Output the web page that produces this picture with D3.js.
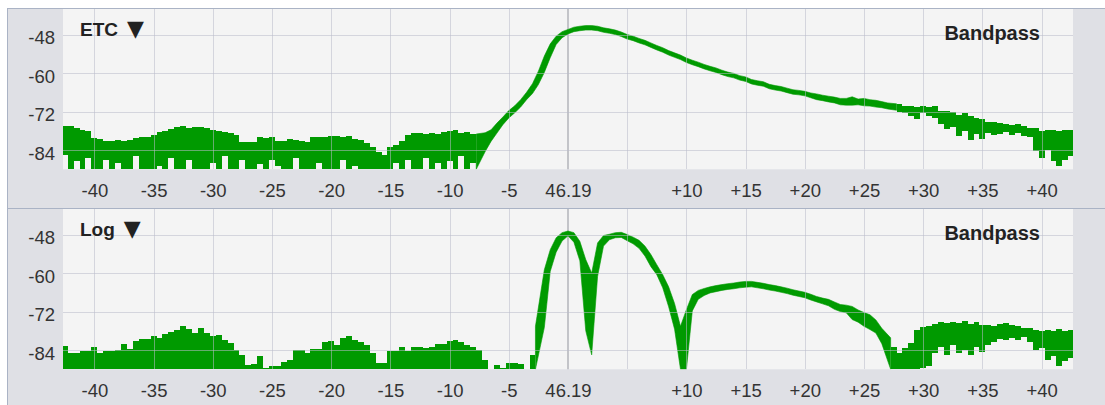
<!DOCTYPE html>
<html><head><meta charset="utf-8">
<script src="https://cdn.jsdelivr.net/npm/d3@7"></script>
<style>
html,body{margin:0;padding:0;background:#fff;}
svg{display:block;}
text{font-family:"Liberation Sans",Arial,Helvetica,sans-serif;}
</style></head><body>
<svg id="chart" width="1105" height="405"></svg>
<script>
// sample times (ms relative to 46.19 ms), 0.5 ms apart
const sampleTimes = [
-42.5,-42,-41.5,-41,-40.5,-40,-39.5,-39,-38.5,-38,
-37.5,-37,-36.5,-36,-35.5,-35,-34.5,-34,-33.5,-33,
-32.5,-32,-31.5,-31,-30.5,-30,-29.5,-29,-28.5,-28,
-27.5,-27,-26.5,-26,-25.5,-25,-24.5,-24,-23.5,-23,
-22.5,-22,-21.5,-21,-20.5,-20,-19.5,-19,-18.5,-18,
-17.5,-17,-16.5,-16,-15.5,-15,-14.5,-14,-13.5,-13,
-12.5,-12,-11.5,-11,-10.5,-10,-9.5,-9,-8.5,-8,
-7.5,-7,-6.5,-6,-5.5,-5,-4.5,-4,-3.5,-3,
-2.5,-2,-1.5,-1,-0.5,0,0.5,1,1.5,2,
2.5,3,3.5,4,4.5,5,5.5,6,6.5,7,
7.5,8,8.5,9,9.5,10,10.5,11,11.5,12,
12.5,13,13.5,14,14.5,15,15.5,16,16.5,17,
17.5,18,18.5,19,19.5,20,20.5,21,21.5,22,
22.5,23,23.5,24,24.5,25,25.5,26,26.5,27,
27.5,28,28.5,29,29.5,30,30.5,31,31.5,32,
32.5,33,33.5,34,34.5,35,35.5,36,36.5,37,
37.5,38,38.5,39,39.5,40,40.5,41,41.5,42,
42.5];

// ETC panel: upper and lower envelope (dB)
const etcHigh = [
-76.6,-76.6,-77.1,-77.7,-78.0,-80.3,-80.6,-81.3,-81.3,-80.8,
-81.3,-81.0,-80.3,-79.9,-79.9,-79.2,-78.5,-78.2,-77.5,-76.8,
-76.6,-77.1,-76.9,-76.9,-77.1,-77.7,-78.0,-78.5,-78.7,-79.2,
-81.6,-81.6,-81.6,-79.9,-80.3,-79.9,-81.1,-81.1,-80.6,-80.8,
-81.3,-81.6,-79.8,-79.8,-80.0,-79.6,-79.6,-79.8,-79.6,-80.6,
-80.8,-81.9,-83.1,-84.5,-85.5,-83.0,-82.5,-81.1,-79.2,-78.7,
-78.7,-79.0,-78.7,-78.9,-78.5,-78.2,-77.9,-78.6,-78.4,-78.9,
-79.0,-78.6,-77.7,-75.6,-73.7,-71.7,-70.2,-68.3,-66.0,-63.3,
-59.4,-54.7,-50.9,-48.5,-47.1,-46.4,-45.7,-45.4,-45.2,-45.2,
-45.4,-45.9,-46.2,-46.6,-47.2,-48.0,-48.5,-49.2,-49.8,-50.6,
-51.4,-52.1,-53.0,-53.7,-54.4,-55.3,-56.0,-56.6,-57.3,-57.9,
-58.4,-59.1,-59.7,-60.1,-60.8,-61.2,-62.0,-62.4,-62.7,-63.5,
-63.9,-64.2,-64.7,-65.2,-65.4,-65.7,-66.2,-66.5,-66.9,-67.2,
-67.5,-67.9,-67.9,-67.4,-68.1,-67.9,-68.3,-68.5,-68.9,-69.3,
-69.6,-69.8,-70.2,-70.4,-70.6,-70.4,-70.6,-70.2,-71.7,-71.9,
-72.2,-73.0,-72.4,-73.3,-74.0,-74.3,-75.1,-75.4,-75.6,-75.8,
-76.1,-75.8,-76.6,-77.1,-77.1,-78.2,-77.7,-77.9,-78.2,-77.7,
-77.7];
const etcLow = [
-85.5,-90,-87.5,-90,-86.5,-90,-90,-87.0,-90,-88.0,
-90,-90,-86.0,-90,-90,-90,-89.0,-90,-86.5,-90,
-90,-87.0,-90,-90,-90,-88.0,-90,-86.0,-90,-90,
-87.0,-90,-90,-88.5,-90,-87.0,-89.0,-90,-90,-86.5,
-90,-90,-90,-88.0,-90,-90,-90,-87.0,-90,-89.0,
-90,-90,-90,-90,-90,-90,-88.0,-90,-87.0,-90,
-90,-86.5,-90,-88.0,-90,-87.5,-90,-86.0,-90,-88.0,
-90,-84.5,-81.3,-78.7,-76.1,-74.0,-72.4,-70.6,-68.3,-66.4,
-63.6,-59.8,-55.2,-51.1,-49.0,-47.8,-47.1,-46.8,-46.6,-46.6,
-46.8,-47.3,-47.6,-48.0,-48.6,-49.4,-49.9,-50.6,-51.2,-52.0,
-52.8,-53.5,-54.4,-55.1,-55.8,-56.7,-57.4,-58.0,-58.7,-59.3,
-59.8,-60.5,-61.1,-61.5,-62.2,-62.6,-63.4,-63.8,-64.1,-64.9,
-65.3,-65.6,-66.1,-66.6,-66.8,-67.1,-67.7,-68.3,-68.6,-69.0,
-69.3,-69.9,-70.0,-70.0,-69.9,-70.2,-70.3,-70.6,-70.8,-71.2,
-71.6,-72.2,-72.6,-73.5,-74.3,-72.5,-73.5,-74.0,-76.0,-77.5,
-76.8,-79.5,-78.0,-80.8,-79.0,-80.5,-78.6,-79.2,-79.0,-78.5,
-79.3,-78.8,-79.5,-79.8,-84.4,-86.5,-84.0,-87.5,-89.0,-87.0,
-86.0];

// Log panel: upper and lower envelope (dB)
const logHigh = [
-82.7,-84.8,-85.0,-84.2,-84.4,-83.2,-85.0,-84.2,-84.2,-84.0,
-82.1,-83.7,-81.3,-80.6,-80.6,-79.5,-80.3,-79.0,-78.5,-77.7,
-76.6,-77.5,-78.7,-77.2,-78.7,-79.7,-79.2,-80.8,-81.8,-84.0,
-85.5,-88.6,-88.3,-85.8,-89.6,-89.1,-89.1,-87.6,-87.0,-84.0,
-84.0,-85.0,-83.7,-83.7,-81.6,-81.1,-82.3,-80.3,-79.5,-80.8,
-81.6,-82.5,-85.0,-88.1,-88.1,-84.2,-84.4,-83.2,-84.4,-82.9,
-82.9,-83.4,-83.0,-82.0,-82.2,-81.3,-80.8,-81.5,-82.5,-82.9,
-83.9,-87.0,-90,-88.6,-89.5,-87.9,-87.9,-88.3,-90,-85.5,
-76.6,-59.0,-52.7,-49.0,-47.4,-46.9,-47.4,-50.1,-55.8,-60.0,
-50.6,-48.3,-47.9,-47.4,-47.3,-48.0,-48.8,-49.8,-51.6,-54.2,
-57.4,-60.5,-64.3,-69.5,-76.6,-71.4,-66.7,-65.4,-64.8,-64.3,
-63.9,-63.6,-63.3,-63.1,-62.8,-62.6,-62.6,-62.9,-63.2,-63.6,
-63.9,-64.3,-64.7,-65.2,-65.6,-66.0,-66.6,-67.3,-67.8,-68.2,
-69.0,-69.8,-70.0,-70.4,-71.5,-72.3,-73.0,-74.6,-77.2,-80.2,
-82.9,-84.9,-83.5,-81.8,-77.7,-76.9,-76.4,-76.0,-75.4,-75.7,
-75.2,-75.5,-75.0,-75.8,-75.4,-76.1,-76.3,-76.6,-76.0,-75.7,
-76.2,-76.6,-77.0,-77.1,-77.6,-78.0,-77.8,-78.2,-77.5,-78.0,
-77.6];
const logLow = [
-90,-90,-90,-90,-90,-90,-90,-90,-90,-90,
-90,-90,-90,-90,-90,-90,-90,-90,-90,-90,
-90,-90,-90,-90,-90,-90,-90,-90,-90,-90,
-90,-90,-90,-90,-90,-90,-90,-90,-90,-90,
-90,-90,-90,-90,-90,-90,-90,-90,-90,-90,
-90,-90,-90,-90,-90,-90,-90,-90,-90,-90,
-90,-90,-90,-90,-90,-90,-90,-90,-90,-90,
-90,-90,-90,-90,-90,-90,-90,-90,-90,-90,
-90,-77.0,-59.5,-53.5,-50.0,-48.4,-50.4,-56.2,-78.0,-85.5,
-61.0,-51.6,-49.6,-49.0,-48.9,-49.9,-50.9,-52.3,-54.7,-58.0,
-60.5,-64.6,-70.5,-77.5,-90,-90,-71.8,-68.2,-67.0,-66.2,
-65.8,-65.4,-65.1,-64.9,-64.6,-64.4,-64.3,-64.6,-64.9,-65.3,
-65.6,-66.0,-66.4,-66.9,-67.3,-67.7,-68.4,-69.0,-69.6,-70.2,
-71.3,-72.0,-72.4,-74.5,-75.3,-76.6,-77.6,-78.7,-82.0,-90,
-90,-90,-90,-90,-90,-89.5,-89.0,-85.0,-83.0,-85.5,
-82.5,-85.0,-84.0,-85.6,-83.0,-84.5,-82.5,-81.5,-80.5,-81.0,
-80.3,-80.8,-80.0,-81.5,-84.0,-83.5,-87.0,-86.0,-89.0,-87.5,
-86.5];

const xTickValues = [-40,-35,-30,-25,-20,-15,-10,-5,0,10,15,20,25,30,35,40];
const xTickLabels = ["-40","-35","-30","-25","-20","-15","-10","-5","46.19","+10","+15","+20","+25","+30","+35","+40"];
const xGridValues = [-40,-35,-30,-25,-20,-15,-10,-5,5,10,15,20,25,30,35,40];
const yTickValues = [-48,-60,-72,-84];
const yTickLabels = ["-48","-60","-72","-84"];
const panelTitles = ["ETC","Log"];
const panelFilters = ["Bandpass","Bandpass"];
const cursorTime = 0;

const svg = d3.select("#chart");
const x = d3.scaleLinear().domain([-42.65, 42.65]).range([63, 1073]);
const half = (sampleTimes[1] - sampleTimes[0]) / 2;

// rendering: smooth trace section drawn as a line band, noisy sections as pixel columns
const panels = [
  {hi: etcHigh, lo: etcLow, title: panelTitles[0], filter: panelFilters[0], smooth: [-7.5, 27.5]},
  {hi: logHigh, lo: logLow, title: panelTitles[1], filter: panelFilters[1], smooth: [-2.5, 27]}
];

panels.forEach((pd, i) => {
  const oy = i * 200;
  const y = d3.scaleLinear().domain([-90, -40]).range([169.3 + oy, 8.9 + oy]);
  const g = svg.append("g");

  g.append("rect").attr("x", 7.5).attr("y", 8.5 + oy).attr("width", 1110).attr("height", 200)
    .attr("fill", "#dfe0e5").attr("stroke", "#aab3c5").attr("stroke-width", 1);
  g.append("rect").attr("x", x.range()[0]).attr("y", 9 + oy)
    .attr("width", x.range()[1] - x.range()[0]).attr("height", y(-90) - (9 + oy))
    .attr("fill", "#f4f4f4");

  const clipId = "clip" + i;
  svg.append("clipPath").attr("id", clipId).append("rect")
    .attr("x", x.range()[0]).attr("y", 9 + oy)
    .attr("width", x.range()[1] - x.range()[0]).attr("height", y(-90) - (9 + oy));

  g.append("line").attr("x1", x(cursorTime)).attr("x2", x(cursorTime))
    .attr("y1", 9 + oy).attr("y2", y(-90))
    .attr("stroke", "#a2a3ab").attr("stroke-width", 1.2);

  const n = Math.min(sampleTimes.length, pd.hi.length, pd.lo.length);
  const all = d3.range(n);
  const isSmooth = j => sampleTimes[j] >= pd.smooth[0] && sampleTimes[j] <= pd.smooth[1];
  const dg = g.append("g").attr("clip-path", "url(#" + clipId + ")");

  const noisy = all.filter(j => !isSmooth(j) && pd.lo[j] < pd.hi[j]);
  dg.selectAll("rect").data(noisy).join("rect")
    .attr("x", j => x(sampleTimes[j] - half))
    .attr("width", j => x(sampleTimes[j] + half) - x(sampleTimes[j] - half))
    .attr("y", j => y(pd.hi[j]))
    .attr("height", j => y(pd.lo[j]) - y(pd.hi[j]))
    .attr("fill", "#009a00")
    .attr("shape-rendering", "crispEdges");

  const sm = all.filter(isSmooth);
  const first = sm[0], last = sm[sm.length - 1];
  const xs = j => j === first ? x(sampleTimes[j] - half) : j === last ? x(sampleTimes[j] + half) : x(sampleTimes[j]);
  const area = d3.area().x(xs).y0(j => y(pd.lo[j])).y1(j => y(pd.hi[j])).curve(d3.curveLinear);
  dg.append("path").datum(sm).attr("d", area).attr("fill", "#009a00")
    .attr("stroke", "#009a00").attr("stroke-width", 0.6);

  const grid = g.append("g").attr("shape-rendering", "crispEdges");
  grid.selectAll("line.v").data(xGridValues).join("line").attr("class", "v")
    .attr("x1", d => Math.round(x(d)) + 0.5).attr("x2", d => Math.round(x(d)) + 0.5)
    .attr("y1", 9 + oy).attr("y2", y(-90))
    .attr("stroke", "rgba(185,188,202,0.55)").attr("stroke-width", 1);
  grid.selectAll("line.h").data(yTickValues).join("line").attr("class", "h")
    .attr("x1", x.range()[0]).attr("x2", x.range()[1])
    .attr("y1", d => Math.round(y(d)) + 0.5).attr("y2", d => Math.round(y(d)) + 0.5)
    .attr("stroke", "rgba(185,188,202,0.55)").attr("stroke-width", 1);

  const xa = g.append("g").attr("transform", "translate(0," + (196.5 + oy) + ")")
    .call(d3.axisBottom(x).tickValues(xTickValues).tickFormat((d, k) => xTickLabels[k]).tickSize(0));
  xa.attr("font-size", null).attr("font-family", null);
  xa.select(".domain").remove();
  xa.selectAll("text").attr("y", 0).attr("dy", null)
    .style("font-size", "18.5px").attr("fill", "#333");

  const ya = g.append("g").attr("transform", "translate(55,0)")
    .call(d3.axisLeft(y).tickValues(yTickValues).tickFormat((d, k) => yTickLabels[k]).tickSize(0));
  ya.attr("font-size", null).attr("font-family", null);
  ya.select(".domain").remove();
  ya.selectAll("text").attr("x", 0).attr("y", 9).attr("dy", null)
    .attr("text-anchor", "end").style("font-size", "18.5px").attr("fill", "#333");

  const tt = g.append("text").attr("x", 80).attr("y", 36 + oy)
    .style("font-size", "19px").style("font-weight", "bold").attr("fill", "#222");
  tt.append("tspan").text(pd.title);
  tt.append("tspan").attr("dx", 9).style("font-size", "22px").style("font-family", "'DejaVu Sans'").text("\u25BC");
  g.append("text").attr("x", 1040).attr("y", 39.5 + oy).attr("text-anchor", "end").text(pd.filter)
    .style("font-size", "20px").style("font-weight", "bold").attr("fill", "#222");
});
</script>
</body></html>
